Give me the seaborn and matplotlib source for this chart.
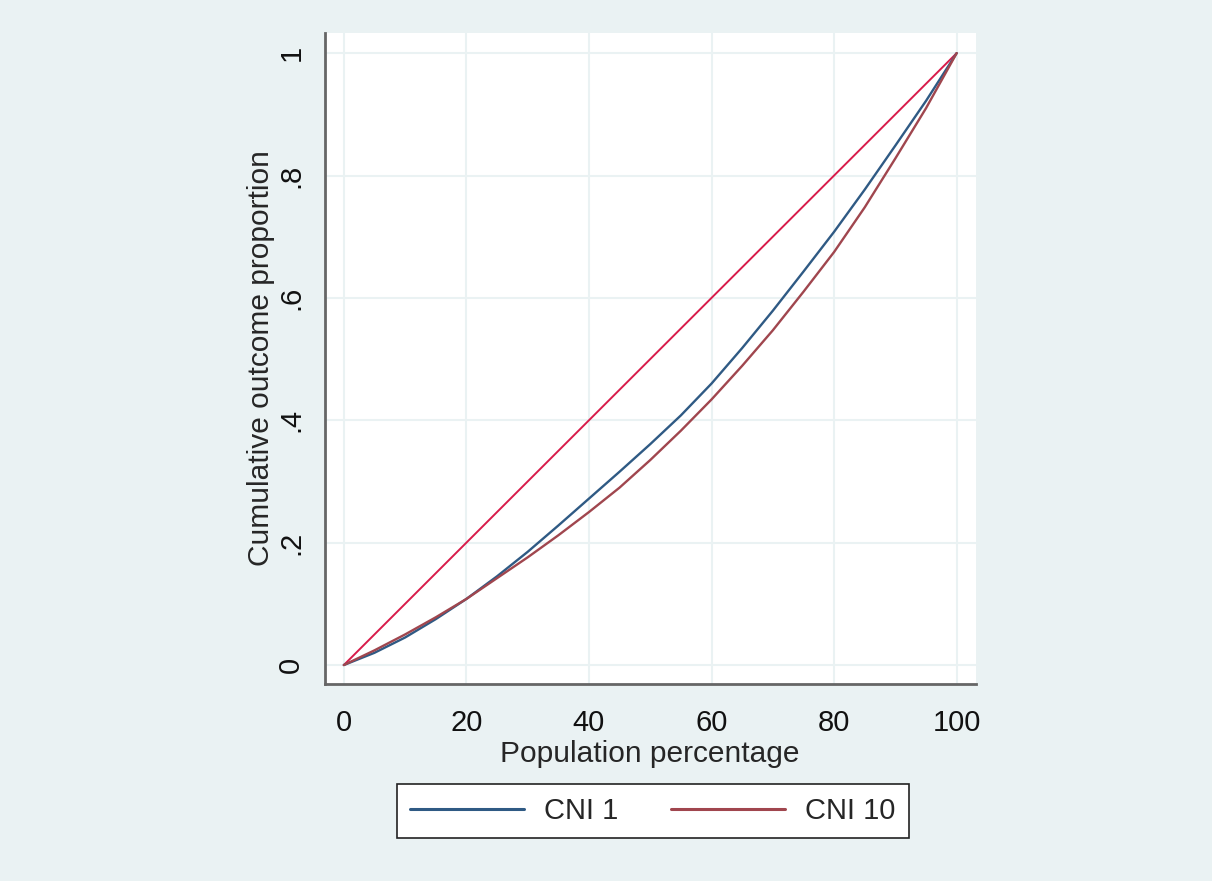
import pandas as pd
import matplotlib.pyplot as plt
import seaborn as sns

# values
pop_pct = [0, 5, 10, 15, 20, 25, 30, 35, 40, 45, 50, 55, 60, 65, 70, 75, 80, 85, 90, 95, 100]
cni_1 = [0, 0.020, 0.045, 0.075, 0.108, 0.145, 0.185, 0.228, 0.272, 0.316, 0.361,
         0.408, 0.460, 0.518, 0.579, 0.643, 0.708, 0.777, 0.849, 0.922, 1.0]
cni_10 = [0, 0.024, 0.050, 0.078, 0.108, 0.142, 0.176, 0.212, 0.250, 0.290, 0.335,
          0.383, 0.434, 0.489, 0.547, 0.610, 0.675, 0.748, 0.828, 0.910, 1.0]
equality = [0, 1]
equality_x = [0, 100]

x_ticks = [0, 20, 40, 60, 80, 100]
y_ticks = [0, 0.2, 0.4, 0.6, 0.8, 1.0]
y_tick_labels = ["0", ".2", ".4", ".6", ".8", "1"]

bg = "#EAF2F3"
sns.set_style("white")
plt.rcParams["font.family"] = ["Liberation Sans", "DejaVu Sans"]

df = pd.concat([
    pd.DataFrame({"pop": pop_pct, "val": cni_1, "series": "CNI 1"}),
    pd.DataFrame({"pop": pop_pct, "val": cni_10, "series": "CNI 10"}),
])
eq = pd.DataFrame({"pop": equality_x, "val": equality})

fig = plt.figure(figsize=(12.12, 8.81), dpi=100, facecolor=bg)
ax = fig.add_axes([0.268, 0.2236, 0.537, 0.739])
ax.set_facecolor("white")

sns.lineplot(data=eq, x="pop", y="val", color="#d81b4a", linewidth=1.4, ax=ax, legend=False)
sns.lineplot(data=df, x="pop", y="val", hue="series",
             palette={"CNI 1": "#2f5a84", "CNI 10": "#a0464e"},
             linewidth=1.7, ax=ax)

ax.set_xlim(-3.1, 103.1)
ax.set_ylim(-0.031, 1.033)
ax.set_xticks(x_ticks)
ax.set_yticks(y_ticks)
ax.set_yticklabels(y_tick_labels, rotation=90, va="center")
ax.tick_params(axis="both", labelsize=21, length=9, width=2, color="#666666",
               labelcolor="#111111")
ax.tick_params(axis="x", pad=9)
ax.tick_params(axis="y", pad=5)
ax.grid(True, color=bg, linewidth=1.5)
for side in ["top", "right"]:
    ax.spines[side].set_visible(False)
for side in ["left", "bottom"]:
    ax.spines[side].set_color("#666666")
    ax.spines[side].set_linewidth(2)

ax.set_xlabel("Population percentage", fontsize=21.5, labelpad=2)
ax.set_ylabel("Cumulative outcome proportion", fontsize=21.5, labelpad=2)

handles, labels = ax.get_legend_handles_labels()
ax.get_legend().remove()
leg = fig.legend(handles, labels, ncol=2, loc="center",
                 bbox_to_anchor=(0.5385, 0.0795), fontsize=21, frameon=True,
                 fancybox=False, edgecolor="#222222", facecolor="white",
                 framealpha=1, handlelength=3.9, columnspacing=1.8,
                 handletextpad=0.7, borderpad=0.45, borderaxespad=0)
leg.get_frame().set_linewidth(1.2)
for line in leg.get_lines():
    line.set_linewidth(2.2)

fig.savefig("out.png", dpi=100, facecolor=bg)
